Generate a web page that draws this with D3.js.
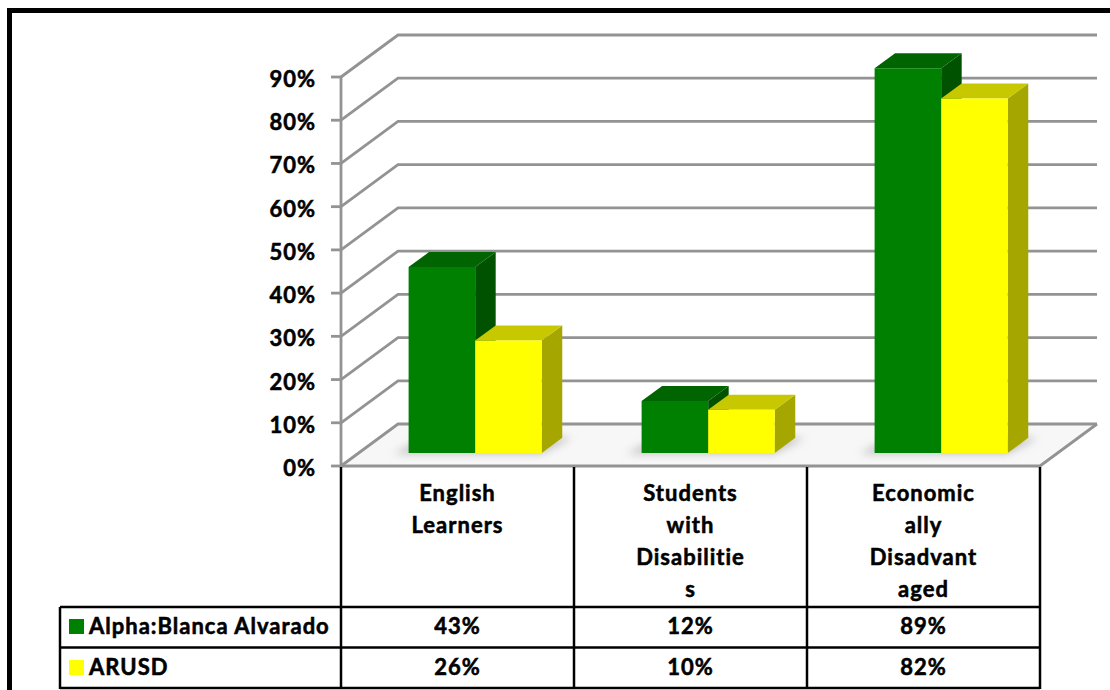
<!DOCTYPE html>
<html>
<head>
<meta charset="utf-8">
<script src="https://cdn.jsdelivr.net/npm/d3@7"></script>
<style>
html,body{margin:0;padding:0;background:#fff;}
svg{display:block;}
text{font-family:Lato,"Liberation Sans",sans-serif;font-weight:bold;fill:#000;stroke:#000;stroke-width:0.55px;letter-spacing:1px;}
</style>
</head>
<body>
<svg id="chart" width="1110" height="690"></svg>
<script>
// ---- data ----
const categories = ["English Learners", "Students with Disabilities", "Economically Disadvantaged"];
const categoryLabelLines = [["English", "Learners"], ["Students", "with", "Disabilitie", "s"], ["Economic", "ally", "Disadvant", "aged"]];
const seriesNames = ["Alpha:Blanca Alvarado", "ARUSD"];
const alphaValues = [43, 12, 89];
const arusdValues = [26, 10, 82];
const yTicks = [0, 10, 20, 30, 40, 50, 60, 70, 80, 90];

const seriesValues = [alphaValues, arusdValues];
const colors = [
  {front: "#008000", top: "#006400", side: "#005200"},
  {front: "#ffff00", top: "#c8c800", side: "#a6a600"}
];
const FS = 22;

const svg = d3.select("#chart");

// 3D geometry
const DX = 57, DY = -42;           // full depth offset of the floor
const fFront = 0.31, fBack = 0.67;  // bar depth span
const y = d3.scaleLinear().domain([0, 90]).range([466, 77]);
const x = d3.scaleBand().domain(categories).range([341, 1040]).padding(0);
const sub = d3.scaleBand().domain(seriesNames).range([0, x.bandwidth()]).paddingInner(0).paddingOuter(0.75);
const P = (px, v, f) => [px + DX * f, y(v) + DY * f];

// outer frame
svg.append("path").attr("d", "M9.5,700 L9.5,10.5 L1120,10.5")
  .attr("fill", "none").attr("stroke", "#000").attr("stroke-width", 5);

// floor
const fl = [P(341, 0, 0), P(1040, 0, 0), P(1040, 0, 1), P(341, 0, 1)];
svg.append("polygon").attr("points", fl.map(p => p.join(",")).join(" "))
  .attr("fill", "#f7f7f7").attr("stroke", "none");

// gridlines: side wall diagonals + back wall horizontals
const grid = svg.append("g").attr("fill", "none").attr("stroke", "#939393").attr("stroke-width", 2.8);
yTicks.forEach(v => {
  const a = P(341, v, 0), b = P(341, v, 1), c = P(1040, v, 1);
  grid.append("polyline").attr("points", [a, b, c].map(p => p.join(",")).join(" "));
});
// floor right edge & front edge
grid.append("polyline").attr("points", [P(341, 0, 0), P(1040, 0, 0), P(1040, 0, 1)].map(p => p.join(",")).join(" "));
// front vertical axis
grid.append("line").attr("x1", 341).attr("x2", 341).attr("y1", y(90)).attr("y2", y(0));
// ticks
yTicks.forEach(v => {
  grid.append("line").attr("x1", 331).attr("x2", 341).attr("y1", y(v)).attr("y2", y(v));
});

// y tick labels
svg.append("g").selectAll("text").data(yTicks).join("text")
  .attr("x", 316).attr("y", d => y(d) + 10)
  .attr("text-anchor", "end").attr("font-size", FS)
  .text(d => d + "%");

// shadows
const defs = svg.append("defs");
defs.append("filter").attr("id", "blur").attr("x", "-20%").attr("y", "-50%").attr("width", "140%").attr("height", "200%")
  .append("feGaussianBlur").attr("stdDeviation", 4);
const shadowG = svg.append("g").attr("filter", "url(#blur)");
categories.forEach((c, i) => {
  const x0 = x(c) + sub(seriesNames[0]) - 14;
  const x1 = x(c) + sub(seriesNames[1]) + sub.bandwidth();
  const pts = [P(x0, 0, fFront - 0.02), P(x1, 0, fFront - 0.02), P(x1 + 10, 0, fBack), P(x0 + 10, 0, fBack)];
  shadowG.append("polygon").attr("points", pts.map(p => p.join(",")).join(" ")).attr("fill", "#aaa").attr("opacity", 0.7);
});

// bars
const bars = svg.append("g");
categories.forEach((c, i) => {
  seriesNames.forEach((s, j) => {
    const v = seriesValues[j][i];
    const xl = x(c) + sub(s), xr = xl + sub.bandwidth();
    const col = colors[j];
    const g = bars.append("g");
    const front = [P(xl, 0, fFront), P(xr, 0, fFront), P(xr, v, fFront), P(xl, v, fFront)];
    const side = [P(xr, 0, fFront), P(xr, 0, fBack), P(xr, v, fBack), P(xr, v, fFront)];
    const top = [P(xl, v, fFront), P(xr, v, fFront), P(xr, v, fBack), P(xl, v, fBack)];
    g.append("polygon").attr("points", side.map(p => p.join(",")).join(" ")).attr("fill", col.side);
    g.append("polygon").attr("points", top.map(p => p.join(",")).join(" ")).attr("fill", col.top);
    g.append("polygon").attr("points", front.map(p => p.join(",")).join(" ")).attr("fill", col.front);
  });
});

// data table
const tbl = svg.append("g").attr("stroke", "#000").attr("stroke-width", 2.5).attr("fill", "none");
const colEdges = [341, ...categories.map(c => x(c) + x.bandwidth())];
colEdges.forEach(cx => tbl.append("line").attr("x1", cx).attr("x2", cx).attr("y1", 467).attr("y2", 689));
tbl.append("line").attr("x1", 60).attr("x2", 60).attr("y1", 607).attr("y2", 689);
[607, 647.5, 688].forEach(ry => tbl.append("line").attr("x1", 60).attr("x2", 1040).attr("y1", ry).attr("y2", ry));

// category labels
categories.forEach((c, i) => {
  const cx = x(c) + x.bandwidth() / 2;
  svg.append("text").attr("text-anchor", "middle").attr("font-size", FS)
    .selectAll("tspan").data(categoryLabelLines[i]).join("tspan")
    .attr("x", cx).attr("y", (d, k) => 501 + k * 32).text(d => d);
});

// legend rows & values
const rowBase = [634, 675];
seriesNames.forEach((s, j) => {
  svg.append("rect").attr("x", 69).attr("y", rowBase[j] - 15).attr("width", 15).attr("height", 15).attr("fill", colors[j].front);
  svg.append("text").attr("x", 89).attr("y", rowBase[j]).attr("font-size", FS).text(s);
  categories.forEach((c, i) => {
    svg.append("text").attr("x", x(c) + x.bandwidth() / 2).attr("y", rowBase[j])
      .attr("text-anchor", "middle").attr("font-size", FS).text(seriesValues[j][i] + "%");
  });
});
</script>
</body>
</html>
